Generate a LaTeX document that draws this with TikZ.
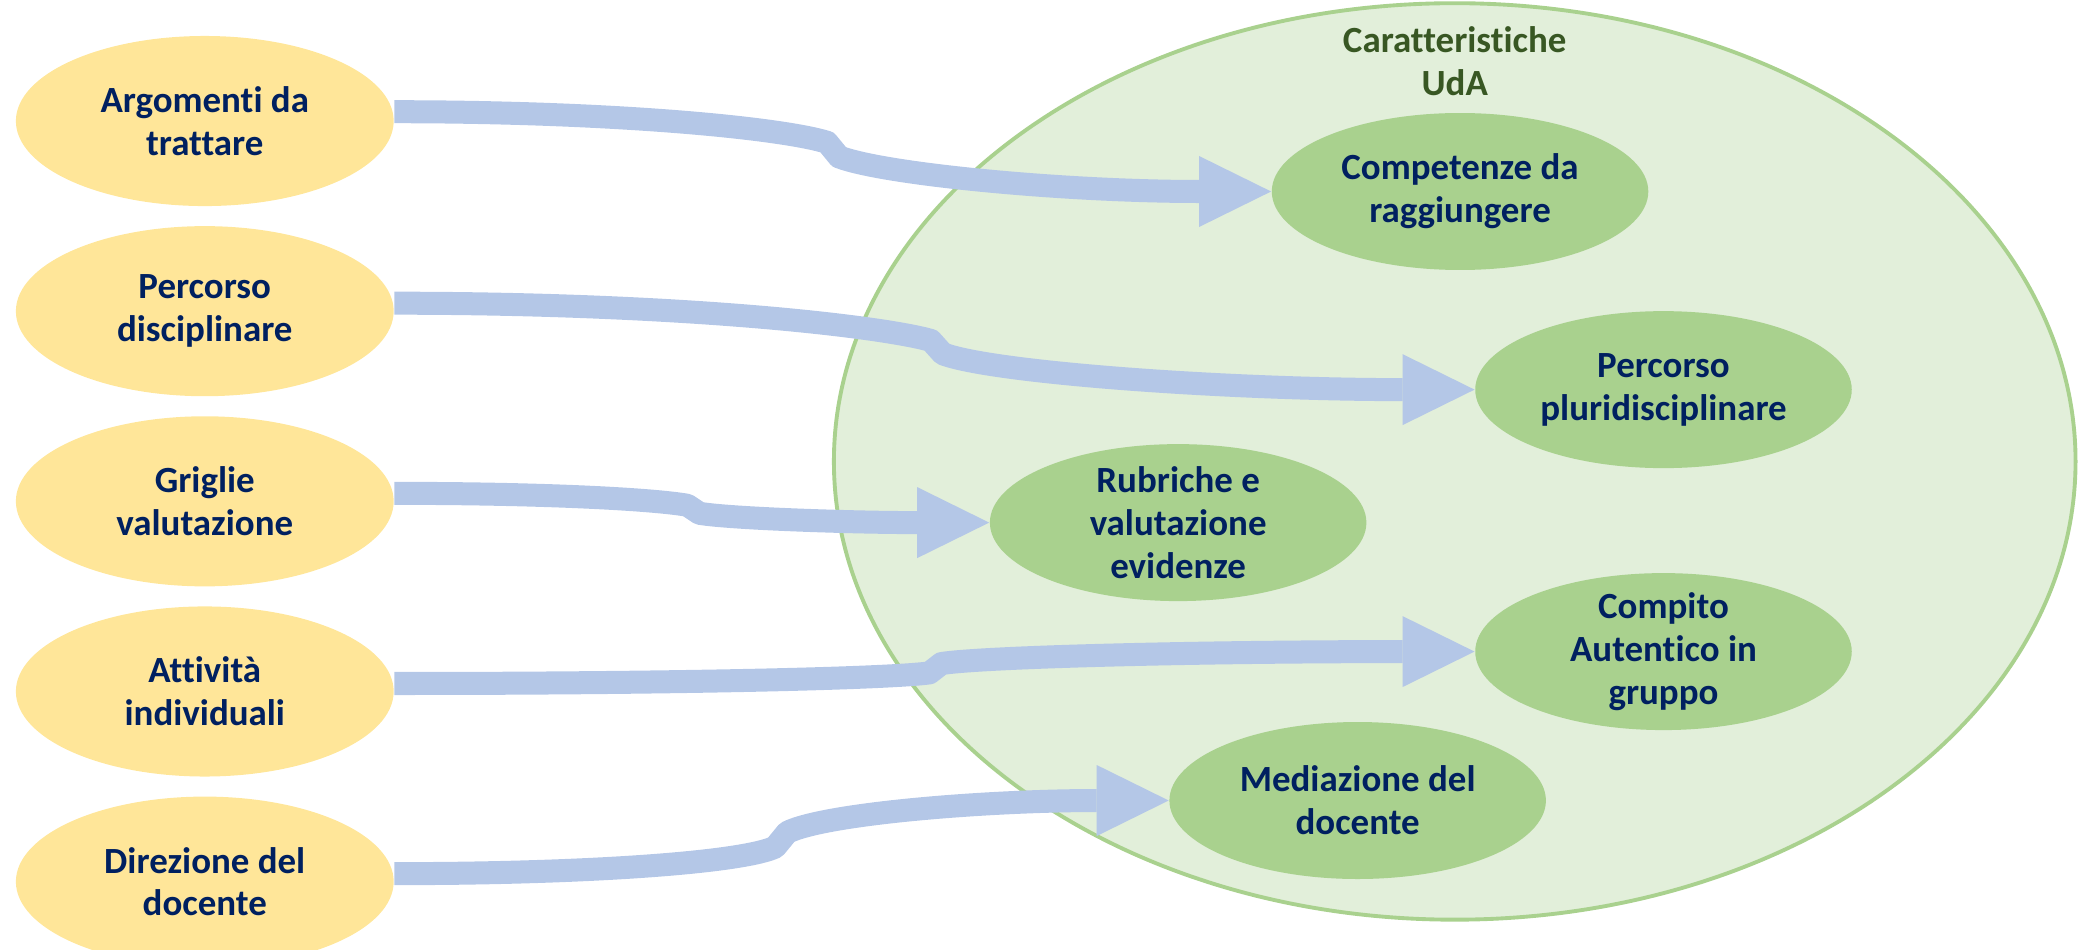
\documentclass[tikz,border=0pt]{standalone}
\usepackage{fontspec}
\setmainfont{Carlito}[Ligatures={NoCommon}]
\usetikzlibrary{shapes.geometric,arrows.meta,calc}
\definecolor{yel}{HTML}{FFE699}
\definecolor{grn}{HTML}{A9D18E}
\definecolor{lgrn}{HTML}{E2EFDA}
\definecolor{arr}{HTML}{B4C7E7}
\definecolor{navy}{HTML}{002060}
\definecolor{dgrn}{HTML}{385723}
\begin{document}
\begin{tikzpicture}[x=0.013297cm,y=-0.013297cm,
  bigell/.style={ellipse, fill=lgrn, draw=grn, line width=1.1pt, minimum width=12.41cm, minimum height=9.16cm, inner sep=0pt},
  yell/.style={ellipse, fill=yel, minimum width=3.776cm, minimum height=1.70cm, inner sep=0pt},
  gell/.style={ellipse, fill=grn, minimum width=3.763cm, minimum height=1.569cm, inner sep=0pt},
  lbl/.style={align=center, text=navy, font=\bfseries\fontsize{10.5}{12.2}\selectfont, inner sep=0pt},
  ttl/.style={align=center, text=dgrn, font=\bfseries\fontsize{10.5}{12.2}\selectfont, inner sep=0pt},
  conn/.style={draw=arr, line width=0.23cm, line join=round, -{Triangle[length=0.72cm,width=0.71cm,line width=0pt]}}
]
\useasboundingbox (0,0) rectangle (1568,714);

\node[bigell] (uda) at (1094,347) {};
\node[ttl] (title) at (1094,46) {Caratteristiche\\UdA};

\node[yell, label={[lbl]center:{Argomenti da\\trattare}}] (y1) at (154,91) {};
\node[yell, label={[lbl]center:{Percorso\\disciplinare}}] (y2) at (154,234) {};
\node[yell, label={[lbl]center:{Griglie\\valutazione}}] (y3) at (154,377) {};
\node[yell, label={[lbl]center:{Attività\\individuali}}] (y4) at (154,520) {};
\node[yell, label={[lbl]center:{Direzione del\\docente}}] (y5) at (154,663) {};

\node[gell, label={[lbl]center:{Competenze da\\raggiungere}}] (g1) at (1098,144) {};
\node[gell, label={[lbl]center:{Percorso\\pluridisciplinare}}] (g2) at (1251,293) {};
\node[gell, label={[lbl]center:{Rubriche e\\valutazione\\evidenze}}] (g3) at (886,393) {};
\node[gell, label={[lbl]center:{Compito\\Autentico in\\gruppo}}] (g4) at (1251,490) {};
\node[gell, label={[lbl]center:{Mediazione del\\docente}}] (g5) at (1021,602) {};

\coordinate (k1a) at (622,107);
\coordinate (k1b) at (631,118);
\coordinate (k2a) at (700,256);
\coordinate (k2b) at (709,266);
\coordinate (k3a) at (517,380);
\coordinate (k3b) at (526,386);
\coordinate (k4a) at (699,506);
\coordinate (k4b) at (708,499);
\coordinate (k5a) at (583,637);
\coordinate (k5b) at (592,626);

\draw[conn] ($(y1.east)+(0,-7)$) .. controls (470,84) and (590,97) .. (k1a) -- (k1b)
  .. controls (665,131) and (800,144) .. (g1.west);
\draw[conn] ($(y2.east)+(0,-6)$) .. controls (520,228) and (665,246) .. (k2a) -- (k2b)
  .. controls (745,280) and (920,293) .. (g2.west);
\draw[conn] ($(y3.east)+(0,-6)$) .. controls (420,371) and (495,376) .. (k3a) -- (k3b)
  .. controls (550,390) and (640,393) .. (g3.west);
\draw[conn] ($(y4.east)+(0,-6)$) .. controls (520,514) and (670,510) .. (k4a) -- (k4b)
  .. controls (740,494) and (900,490) .. (g4.west);
\draw[conn] ($(y5.east)+(0,-6)$) .. controls (450,657) and (560,648) .. (k5a) -- (k5b)
  .. controls (620,612) and (740,602) .. (g5.west);
\end{tikzpicture}
\end{document}
